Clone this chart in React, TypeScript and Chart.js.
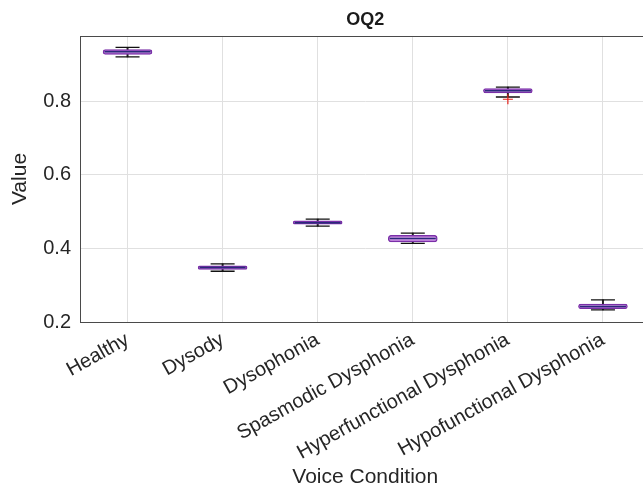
import React, { useEffect, useRef } from "react";
import { Chart, registerables } from "chart.js";

Chart.register(...registerables);

const chartTitle = "OQ2";
const categories = [
  "Healthy",
  "Dysody",
  "Dysophonia",
  "Spasmodic Dysphonia",
  "Hyperfunctional Dysphonia",
  "Hypofunctional Dysphonia",
];
const whiskerLow = [0.921, 0.338, 0.461, 0.414, 0.812, 0.233];
const quartile1 = [0.928, 0.343, 0.466, 0.418, 0.823, 0.236];
const medians = [0.935, 0.348, 0.47, 0.427, 0.829, 0.242];
const quartile3 = [0.941, 0.353, 0.475, 0.436, 0.835, 0.249];
const whiskerHigh = [0.947, 0.358, 0.48, 0.442, 0.839, 0.26];
const outlierCategories = ["Hyperfunctional Dysphonia"];
const outlierValues = [0.806];
const yTicks = [0.2, 0.4, 0.6, 0.8];
const yMin = 0.2;
const yMax = 0.978;

const FONT = "'Liberation Sans', Arial, Helvetica, sans-serif";

export default function App() {
  const ref = useRef<HTMLCanvasElement | null>(null);

  useEffect(() => {
    if (!ref.current) return;
    const framePlugin = {
      id: "frame",
      afterDraw(chart: any) {
        const { ctx, chartArea } = chart;
        ctx.save();
        ctx.strokeStyle = "#4a4a4a";
        ctx.lineWidth = 1;
        ctx.strokeRect(
          Math.round(chartArea.left) + 0.5,
          Math.round(chartArea.top) + 0.5,
          Math.round(chartArea.right - chartArea.left),
          Math.round(chartArea.bottom - chartArea.top)
        );
        ctx.fillStyle = "#1a1a1a";
        ctx.font = "bold 18px " + FONT;
        ctx.textAlign = "center";
        ctx.textBaseline = "middle";
        ctx.fillText(chartTitle, (chartArea.left + chartArea.right) / 2, 20);
        ctx.restore();
      },
    };

    const chart = new Chart(ref.current, {
      type: "bar",
      data: {
        labels: categories,
        datasets: [
          {
            type: "bar",
            data: categories.map((_, i) => [whiskerLow[i], whiskerHigh[i]]),
            backgroundColor: "#222222",
            barThickness: 1.3,
            grouped: false,
            order: 4,
          } as any,
          {
            type: "bar",
            data: categories.map((_, i) => [quartile1[i], quartile3[i]]),
            backgroundColor: "#d49be9",
            borderColor: "#7a2fa8",
            borderWidth: 1.5,
            borderSkipped: false,
            borderRadius: 3,
            barThickness: 49,
            grouped: false,
            order: 3,
          } as any,
          {
            type: "scatter",
            data: categories.map((c, i) => ({ x: c, y: whiskerLow[i] })),
            pointStyle: "line",
            radius: 12,
            borderColor: "#111111",
            borderWidth: 1.3,
            order: 2,
          } as any,
          {
            type: "scatter",
            data: categories.map((c, i) => ({ x: c, y: whiskerHigh[i] })),
            pointStyle: "line",
            radius: 12,
            borderColor: "#111111",
            borderWidth: 1.3,
            order: 2,
          } as any,
          {
            type: "scatter",
            data: categories.map((c, i) => ({ x: c, y: medians[i] })),
            pointStyle: "line",
            radius: 23,
            borderColor: "#2a2a7a",
            borderWidth: 1.5,
            order: 1,
          } as any,
          {
            type: "scatter",
            data: outlierCategories.map((c, i) => ({ x: c, y: outlierValues[i] })),
            pointStyle: "cross",
            radius: 5,
            borderColor: "#e8201a",
            borderWidth: 1.2,
            order: 0,
          } as any,
        ],
      },
      options: {
        animation: false,
        responsive: false,
        events: [],
        layout: { padding: { left: 8, top: 36, right: 5, bottom: 0 } },
        plugins: {
          legend: { display: false },
          tooltip: { enabled: false },
          title: { display: false },
        },
        scales: {
          x: {
            type: "category",
            offset: true,
            grid: {
              offset: false,
              color: "#e0e0e0",
              drawTicks: false,
            },
            border: { color: "#4a4a4a" },
            ticks: {
              minRotation: 29,
              maxRotation: 29,
              padding: 6,
              color: "#262626",
              font: { family: FONT, size: 20 },
              autoSkip: false,
            },
            title: {
              display: true,
              text: "Voice Condition",
              color: "#262626",
              font: { family: FONT, size: 21 },
              padding: { top: 0, bottom: 0 },
            },
            afterFit: (s: any) => {
              s.height = 168;
              s.paddingLeft = 0;
              s.paddingRight = 0;
            },
          },
          y: {
            type: "linear",
            min: yMin,
            max: yMax,
            grid: { color: "#e0e0e0", drawTicks: false },
            border: { color: "#4a4a4a" },
            afterBuildTicks: (s: any) => {
              s.ticks = yTicks.map((v) => ({ value: v }));
            },
            ticks: {
              padding: 9,
              color: "#262626",
              font: { family: FONT, size: 20 },
              callback: (v: any) => Number(v).toFixed(1),
            },
            title: {
              display: true,
              text: "Value",
              color: "#262626",
              font: { family: FONT, size: 21 },
              padding: { top: 0, bottom: 4 },
            },
            afterFit: (s: any) => {
              s.width = 72;
              s.paddingTop = 0;
              s.paddingBottom = 0;
            },
          },
        },
      },
      plugins: [framePlugin],
    } as any);
    return () => chart.destroy();
  }, []);

  return (
    <div
      style={{
        position: "fixed",
        left: 0,
        top: 0,
        width: 643,
        height: 490,
        overflow: "hidden",
        background: "#ffffff",
      }}
    >
      <canvas ref={ref} width={675} height={490} style={{ display: "block" }} />
    </div>
  );
}
